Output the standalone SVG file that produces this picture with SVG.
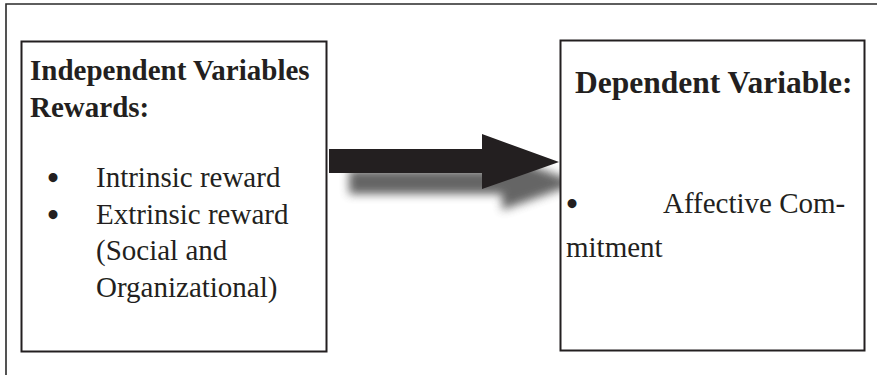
<svg xmlns="http://www.w3.org/2000/svg" width="877" height="375" viewBox="0 0 877 375">
<defs>
<style>
.frame{fill:none;stroke:#2a2a2a;stroke-width:1.6}
.box{fill:#fff;stroke:#231f20;stroke-width:2}
.b{font-family:"Liberation Serif","Times New Roman",serif;font-weight:bold;font-size:29px;fill:#231f20}
.t{font-family:"Liberation Serif","Times New Roman",serif;font-size:29px;fill:#231f20}
.bul{font-family:"Liberation Serif","Times New Roman",serif;font-size:33px;font-weight:bold;fill:#231f20;text-anchor:middle}
</style>
<filter id="sh" x="-20%" y="-50%" width="140%" height="200%">
<feGaussianBlur stdDeviation="5"/>
</filter>
</defs>
<rect width="877" height="375" fill="#fff"/>
<path class="frame" d="M6,375 V4 H877"/>
<g id="connectors">
<polygon points="349,170 502,170 502,155 579,183 502,210 502,194 349,194" fill="#555" filter="url(#sh)" opacity="0.9"/>
<polygon points="329,149 482,149 482,134 559,162 482,189 482,173 329,173" fill="#231f20"/>
</g>
<g id="independent">
<rect class="box" x="21.5" y="41.5" width="305" height="310"/>
<text class="b" x="30" y="80">Independent Variables</text>
<text class="b" x="30" y="117">Rewards:</text>
<text class="bul" x="53" y="189">•</text>
<text class="t" x="96" y="187">Intrinsic reward</text>
<text class="bul" x="53" y="226">•</text>
<text class="t" x="96" y="224">Extrinsic reward</text>
<text class="t" x="96" y="260">(Social and</text>
<text class="t" x="96" y="297">Organizational)</text>
</g>
<g id="dependent">
<rect class="box" x="560.5" y="40.5" width="304" height="310"/>
<text class="b" x="575" y="93" style="font-size:31.5px">Dependent Variable:</text>
<text class="bul" x="572" y="215">•</text>
<text class="t" x="663" y="213">Affective Com-</text>
<text class="t" x="566" y="257">mitment</text>
</g>
</svg>
